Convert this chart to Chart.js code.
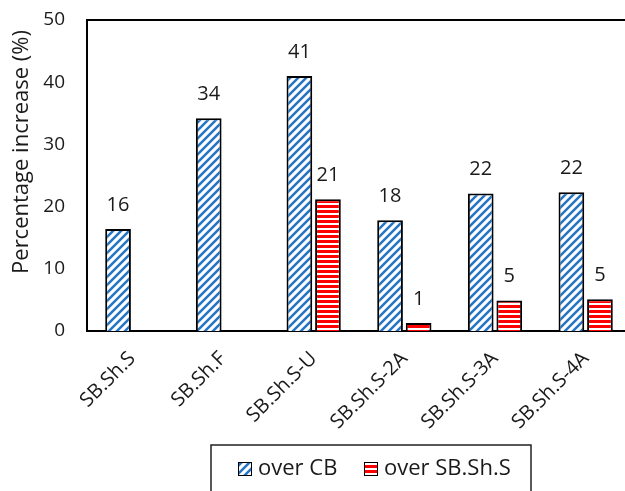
<!DOCTYPE html>
<html>
<head>
<meta charset="utf-8">
<script src="https://cdn.jsdelivr.net/npm/chart.js@4.4.1/dist/chart.umd.min.js"></script>
<style>
  html, body { margin: 0; padding: 0; background: #fff; overflow: hidden; }
  #wrap { width: 632px; height: 491px; }
</style>
</head>
<body>
<div id="wrap"><canvas id="chart" width="632" height="491"></canvas></div>
<script>
// Specimen labels along the x axis
const categories = ['SB.Sh.S', 'SB.Sh.F', 'SB.Sh.S-U', 'SB.Sh.S-2A', 'SB.Sh.S-3A', 'SB.Sh.S-4A'];
// Percentage increase over the control beam (CB)
const overCB = [16.4, 34.2, 41.0, 17.8, 22.1, 22.3];
// Percentage increase over SB.Sh.S
const overSBShS = [null, null, 21.2, 1.3, 4.9, 5.1];
const seriesNames = ['over CB', 'over SB.Sh.S'];
const yTicks = [0, 10, 20, 30, 40, 50];
const yTitle = 'Percentage increase (%)';

const FONT = "'Open Sans', 'Noto Sans', sans-serif";
const TEXT = '#1a1a1a';
const BLUE = '#2474c4';
const RED = '#ff0000';

function diagonalPattern(color) {
  const s = 8;
  const c = document.createElement('canvas');
  c.width = s; c.height = s;
  const g = c.getContext('2d');
  g.fillStyle = '#fff';
  g.fillRect(0, 0, s, s);
  g.strokeStyle = color;
  g.lineWidth = 2.5;
  g.beginPath();
  g.moveTo(0, s); g.lineTo(s, 0);
  g.moveTo(-2, 2); g.lineTo(2, -2);
  g.moveTo(s - 2, s + 2); g.lineTo(s + 2, s - 2);
  g.stroke();
  return g.createPattern(c, 'repeat');
}

function horizontalPattern(color) {
  const c = document.createElement('canvas');
  c.width = 5; c.height = 5;
  const g = c.getContext('2d');
  g.fillStyle = '#fff';
  g.fillRect(0, 0, 5, 5);
  g.fillStyle = color;
  g.fillRect(0, 0, 5, 3);
  return g.createPattern(c, 'repeat');
}

const ctx0 = document.getElementById('chart').getContext('2d');
const blueFill = diagonalPattern(BLUE);
const redFill = horizontalPattern(RED);

// Value labels above each bar
const valueLabels = {
  id: 'valueLabels',
  afterDatasetsDraw(chart) {
    const ctx = chart.ctx;
    ctx.save();
    ctx.font = '20px ' + FONT;
    ctx.fillStyle = TEXT;
    ctx.textAlign = 'center';
    ctx.textBaseline = 'middle';
    chart.data.datasets.forEach((ds, di) => {
      const meta = chart.getDatasetMeta(di);
      meta.data.forEach((bar, i) => {
        const v = ds.data[i];
        if (v === null || v === undefined) return;
        ctx.fillText(String(Math.round(v)), bar.x, bar.y - 24);
      });
    });
    ctx.restore();
  }
};

// Top edge of the plot frame, rotated y-axis title and boxed legend
const frameAndLegend = {
  id: 'frameAndLegend',
  afterDraw(chart) {
    const ctx = chart.ctx;
    const a = chart.chartArea;
    ctx.save();
    ctx.strokeStyle = '#000';
    ctx.lineWidth = 2;
    ctx.beginPath();
    ctx.moveTo(a.left - 1, a.top);
    ctx.lineTo(a.right + 2, a.top);
    ctx.stroke();

    // y-axis title
    ctx.save();
    ctx.translate(22, 152);
    ctx.rotate(-Math.PI / 2);
    ctx.font = '22px ' + FONT;
    ctx.fillStyle = TEXT;
    ctx.textAlign = 'center';
    ctx.textBaseline = 'middle';
    ctx.fillText(yTitle, 0, 0);
    ctx.restore();

    // legend box
    ctx.strokeStyle = '#222';
    ctx.lineWidth = 1.5;
    ctx.strokeRect(211, 445, 320, 60);
    const fills = [blueFill, redFill];
    const swatchX = [238, 364];
    ctx.font = '22px ' + FONT;
    ctx.textBaseline = 'middle';
    ctx.textAlign = 'left';
    chart.data.datasets.forEach((ds, i) => {
      const x = swatchX[i];
      ctx.fillStyle = fills[i];
      ctx.fillRect(x, 462, 14, 14);
      ctx.strokeStyle = '#000';
      ctx.lineWidth = 1;
      ctx.strokeRect(x + 0.5, 462.5, 13, 13);
      ctx.fillStyle = TEXT;
      ctx.fillText(ds.label, x + 20, 469);
    });
    ctx.restore();
  }
};

new Chart(ctx0, {
  type: 'bar',
  data: {
    labels: categories,
    datasets: [
      { label: seriesNames[0], data: overCB, backgroundColor: blueFill, borderColor: '#000', borderWidth: 2 },
      { label: seriesNames[1], data: overSBShS, backgroundColor: redFill, borderColor: '#000', borderWidth: 2 }
    ]
  },
  options: {
    responsive: false,
    animation: false,
    devicePixelRatio: 1,
    layout: { padding: { top: 20, left: 0, right: 1, bottom: 0 } },
    datasets: { bar: { categoryPercentage: 0.63, barPercentage: 0.9 } },
    plugins: { legend: { display: false }, tooltip: { enabled: false } },
    scales: {
      x: {
        grid: { display: false, drawTicks: false },
        border: { display: true, color: '#000', width: 2 },
        ticks: {
          color: TEXT,
          font: { family: FONT, size: 20 },
          minRotation: 45, maxRotation: 45,
          padding: 16
        },
        afterFit(scale) {
          scale.height = 160;
          scale.paddingLeft = 0; scale.paddingRight = 0;
          scale.paddingTop = 0; scale.paddingBottom = 0;
        }
      },
      y: {
        min: 0, max: 50,
        afterBuildTicks(scale) { scale.ticks = yTicks.map(v => ({ value: v })); },
        grid: { display: false, drawTicks: false },
        border: { display: true, color: '#000', width: 2 },
        ticks: {
          color: TEXT,
          font: { family: FONT, size: 19 },
          padding: 22
        },
        afterFit(scale) {
          scale.width = 87;
          scale.paddingLeft = 0; scale.paddingRight = 0;
          scale.paddingTop = 0; scale.paddingBottom = 0;
        }
      }
    }
  },
  plugins: [valueLabels, frameAndLegend]
});
</script>
</body>
</html>
